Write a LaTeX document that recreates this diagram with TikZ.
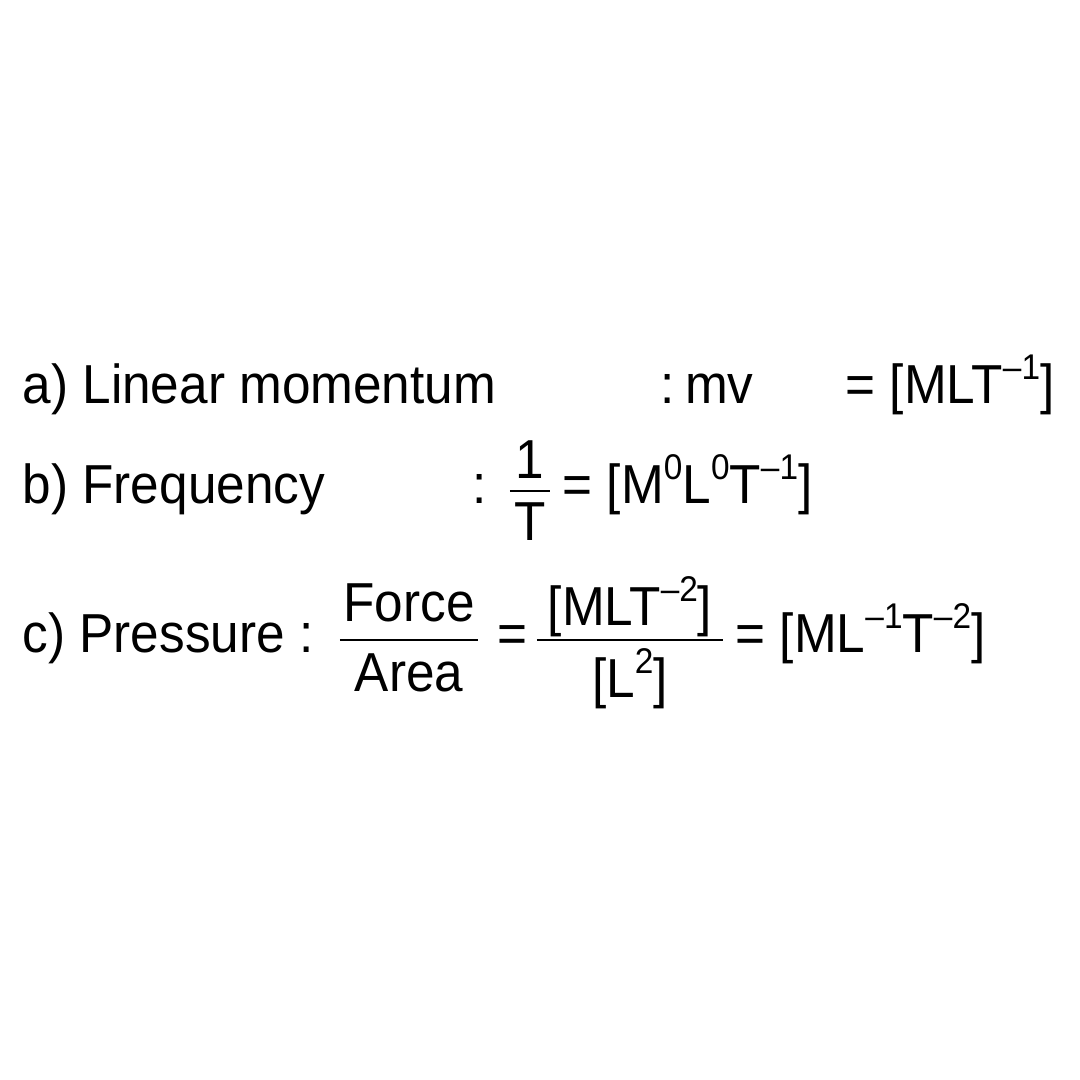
\documentclass[tikz,border=0pt]{standalone}
\usepackage{graphicx}
\usepackage{fontspec}
\setmainfont{Liberation Sans}
\newcommand{\sups}[1]{\raisebox{0.42em}{\fontsize{9.5}{10}\selectfont #1}}
\newcommand{\tall}[1]{\scalebox{1}[1.07]{#1}}
\tikzset{
    txt/.style={anchor=base west, inner sep=0pt, font=\fontsize{14.6}{17}\selectfont},
    mid/.style={anchor=base, inner sep=0pt, font=\fontsize{14.6}{17}\selectfont},
    bar/.style={line width=0.2mm}
}
\begin{document}
\begin{tikzpicture}[x=0.1mm, y=-0.1mm]
    \useasboundingbox (0,0) rectangle (1080,1080);

    % Nodes
    \node[txt] (A) at (22, 403) {\tall{a) Linear momentum}};
    \node[txt] (AMv) at (660, 403) {\tall{:\hspace{0.2em}mv}};
    \node[txt] (ADim) at (845, 403) {\tall{= [MLT\sups{–1}]}};

    \node[txt] (B) at (22, 503) {\tall{b) Frequency}};
    \node[txt] (BColon) at (472, 503) {\tall{:}};
    \node[mid] (BNum) at (530, 478) {\tall{1}};
    \node[mid] (BDen) at (530, 540) {\tall{T}};
    \node[txt] (BDim) at (562, 503) {\tall{= [M\sups{0}L\sups{0}T\sups{–1}]}};

    \node[txt] (C) at (22, 652) {\tall{c) Pressure :}};
    \node[mid] (CNum) at (409, 621) {\tall{Force}};
    \node[mid] (CDen) at (409, 691) {\tall{Area}};
    \node[txt] (CEq) at (497, 652) {\tall{=}};
    \node[mid] (CDimNum) at (630, 625) {\tall{[MLT\sups{–2}]}};
    \node[mid] (CDimDen) at (630, 697) {\tall{[L\sups{2}]}};
    \node[txt] (CDim) at (735, 652) {\tall{= [ML\sups{–1}T\sups{–2}]}};

    % Lines
    \draw[bar] (510, 491) -- (550, 491);
    \draw[bar] (340, 640) -- (478, 640);
    \draw[bar] (537, 640) -- (723, 640);
\end{tikzpicture}
\end{document}
